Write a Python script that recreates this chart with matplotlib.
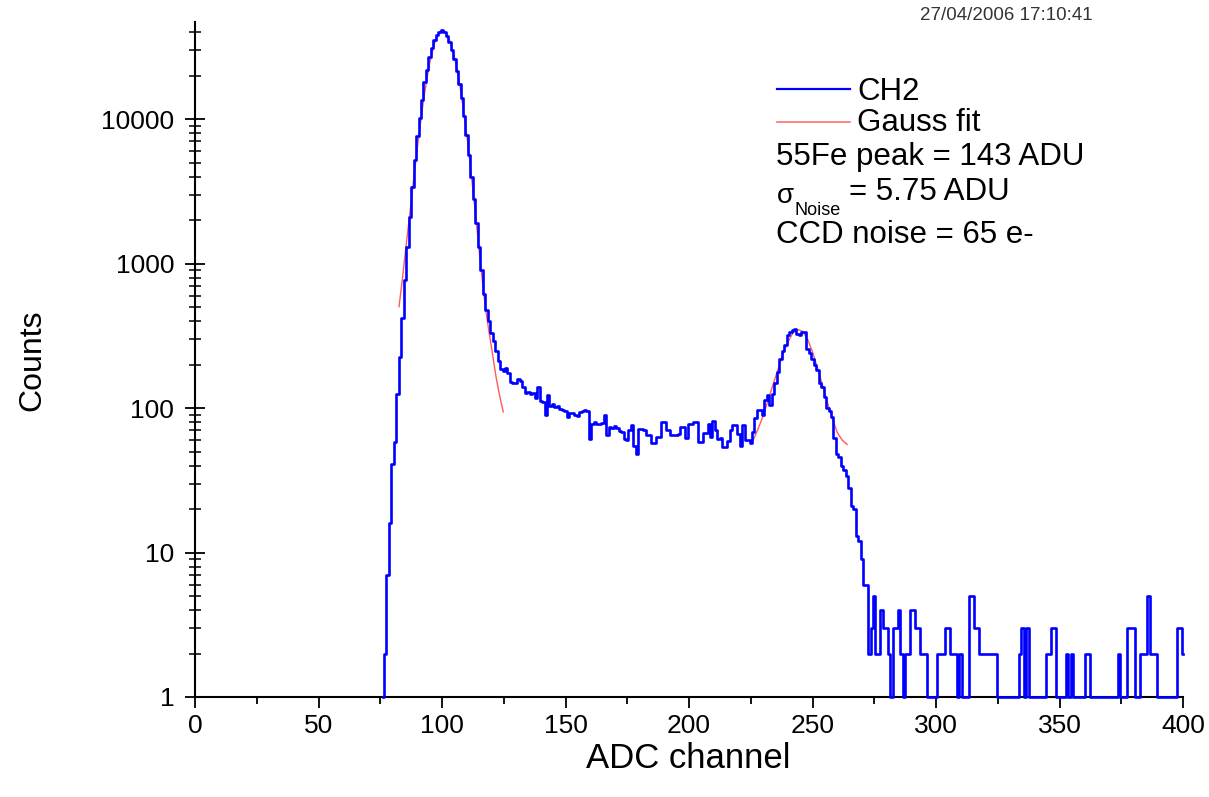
import numpy as np
import matplotlib
matplotlib.use("Agg")
import matplotlib.pyplot as plt
from matplotlib.lines import Line2D
from matplotlib.ticker import MultipleLocator, FixedLocator, LogLocator, FuncFormatter, NullFormatter

plt.rcParams['font.family'] = ['Liberation Sans', 'DejaVu Sans']

# histogram, CH2, one value per ADC channel (76 .. 400)
channel = np.arange(76, 401)
counts = [
    0, 2, 7, 16, 41, 58, 126, 226, 420, 770,
    1300, 2100, 3400, 5200, 7600, 10100, 13500, 18000, 22000, 27000,
    31000, 35000, 38000, 40000, 41300, 40000, 37500, 34000, 30000, 26000,
    21500, 17500, 14000, 10500, 7800, 5600, 4000, 2800, 1900, 1300,
    900, 620, 480, 400, 330, 290, 250, 210, 185, 180,
    190, 175, 152, 148, 150, 160, 155, 140, 128, 130,
    126, 128, 117, 140, 112, 110, 89, 123, 104, 106,
    102, 104, 99, 97, 96, 87, 92, 93, 89, 88,
    94, 95, 97, 96, 61, 78, 80, 77, 78, 79,
    89, 65, 74, 73, 75, 73, 69, 68, 61, 60,
    70, 76, 55, 48, 72, 72, 70, 65, 65, 57,
    57, 63, 63, 80, 80, 70, 70, 65, 65, 65,
    66, 74, 74, 62, 78, 78, 80, 80, 58, 58,
    67, 67, 78, 63, 82, 70, 61, 62, 54, 54,
    59, 70, 76, 76, 66, 55, 76, 60, 60, 57,
    68, 85, 97, 97, 89, 113, 123, 105, 125, 150,
    178, 220, 250, 272, 318, 337, 345, 353, 325, 318,
    337, 337, 258, 240, 220, 198, 183, 150, 140, 120,
    100, 95, 87, 62, 48, 46, 40, 37, 34, 28,
    21, 20, 13, 12, 9, 6, 6, 2, 3, 5,
    2, 2, 4, 3, 3, 2, 0, 3, 3, 4,
    2, 0, 2, 2, 4, 4, 3, 3, 2, 2,
    2, 0, 1, 1, 1, 2, 2, 2, 3, 3,
    2, 2, 2, 0, 2, 0, 1, 1, 5, 5,
    3, 3, 2, 2, 2, 2, 2, 2, 2, 0,
    1, 1, 1, 1, 1, 1, 1, 1, 2, 3,
    1, 3, 0, 1, 1, 1, 1, 1, 1, 2,
    2, 3, 3, 0, 1, 1, 1, 2, 0, 2,
    1, 1, 1, 1, 1, 2, 2, 0, 1, 1,
    1, 1, 1, 1, 1, 1, 1, 1, 2, 0,
    1, 1, 3, 3, 3, 0, 1, 2, 2, 2,
    5, 2, 2, 2, 0, 1, 1, 1, 1, 1,
    1, 1, 3, 3, 2,
]

# gauss fit curves
fit1_x = [82.6, 84, 85, 86, 87, 88, 89, 90, 91, 92, 93, 94, 95, 96, 97, 98, 99, 100,
          101, 102, 103, 104, 105, 106, 107, 108, 109, 110, 111, 112, 113, 114, 115,
          116, 117, 118, 119, 120, 121, 122, 123, 124, 124.8]
fit1_y = [503, 790, 1130, 1600, 2250, 3200, 4500, 6300, 8600, 11600, 15300, 19500,
          24300, 29000, 33500, 37300, 40000, 41300, 40800, 38700, 35500, 31500, 27000,
          22300, 18000, 14000, 10600, 7800, 5600, 3900, 2700, 1850, 1250, 860, 600,
          440, 340, 265, 205, 160, 130, 108, 94]
fit2_x = [226, 228, 230, 232, 234, 236, 238, 240, 242, 244, 246, 248, 250, 252, 254,
          256, 258, 260, 262, 264]
fit2_y = [60, 72, 88, 113, 145, 185, 235, 285, 330, 350, 340, 300, 245, 190, 145,
          110, 85, 68, 60, 56]

W, H = 1209, 797
fig = plt.figure(figsize=(W / 100, H / 100), dpi=100)
ax = fig.add_axes([195 / W, 1 - 697 / H, 988 / W, 675 / H])

ax.plot(fit1_x, fit1_y, color='#ff5a5a', lw=1.0, zorder=2)
ax.plot(fit2_x, fit2_y, color='#ff5a5a', lw=1.0, zorder=2)
ax.step(channel, np.clip(counts, 1, None), where='mid', color='#0000ff', lw=1.9,
        zorder=4, clip_on=False)

ax.set_yscale('log')
ax.set_xlim(0, 400)
ax.set_ylim(1, 47000)

for s in ['top', 'right']:
    ax.spines[s].set_visible(False)
for s in ['left', 'bottom']:
    ax.spines[s].set_linewidth(1.5)

ax.xaxis.set_major_locator(MultipleLocator(50))
ax.xaxis.set_minor_locator(MultipleLocator(25))
ax.tick_params(axis='x', which='major', direction='out', length=8, width=1.3,
               labelsize=19, pad=4)
ax.tick_params(axis='x', which='minor', direction='out', length=5, width=1.3)

ax.yaxis.set_major_locator(FixedLocator([1, 10, 100, 1000, 10000]))
ax.yaxis.set_major_formatter(FuncFormatter(lambda v, p: '%d' % v))
ax.yaxis.set_minor_locator(LogLocator(base=10, subs=range(2, 10)))
ax.yaxis.set_minor_formatter(NullFormatter())
ax.tick_params(axis='y', which='major', direction='inout', length=14, width=1.3,
               labelsize=19, pad=8)
ax.tick_params(axis='y', which='minor', direction='inout', length=8, width=1.1)

ax.set_xlabel('ADC channel', fontsize=25)
ax.set_ylabel('Counts', fontsize=23)
ax.xaxis.label.set_va('center')
ax.yaxis.label.set_va('center')
ax.xaxis.set_label_coords((688 - 195) / 988, (697 - 758) / 675)
ax.yaxis.set_label_coords((32 - 195) / 988, (697 - 360) / 675)

# legend / annotations, placed in pixels
def fx(x):
    return x / W

def fy(y):
    return 1 - y / H

fig.add_artist(Line2D([fx(777), fx(850)], [fy(89), fy(89)], color='#0000ff', lw=1.6))
fig.add_artist(Line2D([fx(777), fx(850)], [fy(122), fy(122)], color='#ff7070', lw=1.2))
fs = 22.5
fig.text(fx(857), fy(100), 'CH2', fontsize=fs, va='baseline')
fig.text(fx(857), fy(131), 'Gauss fit', fontsize=fs, va='baseline')
fig.text(fx(776), fy(165), '55Fe peak = 143 ADU', fontsize=fs, va='baseline')
fig.text(fx(777), fy(203), '\u03c3', fontsize=20, va='baseline')
fig.text(fx(795), fy(215), 'Noise', fontsize=13, va='baseline')
fig.text(fx(849), fy(200), '= 5.75 ADU', fontsize=fs, va='baseline')
fig.text(fx(776), fy(243), 'CCD noise = 65 e-', fontsize=fs, va='baseline')

fig.text(fx(1093), fy(16), '27/04/2006 17:10:41', fontsize=13.5, color='#333333',
         ha='right', va='center')

fig.savefig('out.png', dpi=100)
